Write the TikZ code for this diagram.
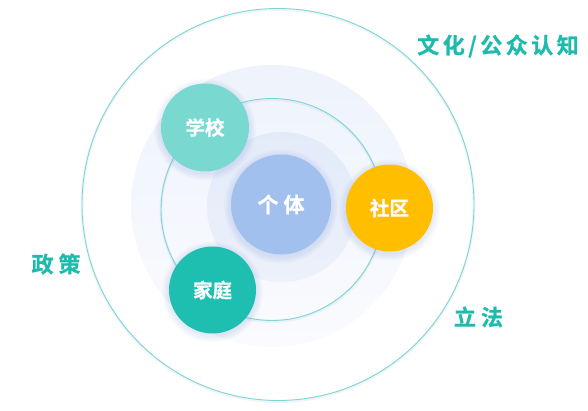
\documentclass[tikz,border=0pt]{standalone}
\usepackage{fontspec}
\newfontfamily\cjk[BoldFont={Noto Sans CJK SC Bold}, BoldFeatures={FakeBold=0.8}]{Noto Sans CJK SC}
\definecolor{ringline}{HTML}{7CD7D0}
\definecolor{cschool}{HTML}{79D9D1}
\definecolor{cfamily}{HTML}{1EBFB1}
\definecolor{ccomm}{HTML}{FFBE00}
\definecolor{cself}{HTML}{A1C0EE}
\definecolor{labelc}{HTML}{1EBBAD}
\definecolor{shadowc}{HTML}{8FA9DD}
\newcommand\myglow[3]{%
  \foreach \k in {1,...,7}{\fill[shadowc, opacity=0.035] (#1,#2+2) circle ({#3+\k});}%
}
\tikzset{
  ring/.style={draw=ringline, line width=0.9pt, fill=none},
  ball/.style={circle, inner sep=0pt, minimum size=#1, text=white,
    font=\cjk\bfseries\fontsize{19.5}{21}\selectfont},
  outlabel/.style={text=labelc, font=\cjk\bfseries\fontsize{22}{24}\selectfont, inner sep=0pt}
}
\begin{document}
\begin{tikzpicture}[x=1pt,y=-1pt]
\useasboundingbox (0,0) rectangle (588,410);
% halos
\shade[top color={rgb,255:red,238;green,243;blue,252}, bottom color={rgb,255:red,250;green,251;blue,254}] (272,206) circle (141);
\shade[top color={rgb,255:red,227;green,235;blue,249}, bottom color={rgb,255:red,236;green,241;blue,251}] (282,207) circle (75);
% ring glows
\draw[shadowc, opacity=0.12, line width=3pt] (278,205.5) circle (196);
\draw[shadowc, opacity=0.12, line width=3pt] (272,210.5) circle (111);
% rings
\node[circle, ring, minimum size=392pt, inner sep=0pt] (outer) at (278,204.5) {};
\node[circle, ring, minimum size=222pt, inner sep=0pt] (inner) at (272,209.5) {};
% ball glows
\myglow{281}{204.5}{50}
\myglow{205}{127.5}{44}
\myglow{389.5}{208}{43.5}
\myglow{212.5}{290}{43.5}
% balls
\node[ball=100pt, fill=cself, font=\cjk\bfseries\fontsize{21}{23}\selectfont] (self) at (281,204.5) {个\kern5pt 体};
\node[ball=88pt, fill=cschool] (school) at (205,127.5) {学校};
\node[ball=87pt, fill=ccomm] (comm) at (389.5,208) {社区};
\node[ball=87pt, fill=cfamily] (family) at (212.5,290) {家庭};
% outer labels
\node[outlabel] (culture) at (498,46) {文\kern3.5pt 化\kern3.5pt /\kern3.5pt 公\kern3.5pt 众\kern3.5pt 认\kern3.5pt 知};
\node[outlabel] (policy) at (56,264) {政\kern5pt 策};
\node[outlabel] (law) at (478.5,317) {立\kern5pt 法};
\end{tikzpicture}
\end{document}
